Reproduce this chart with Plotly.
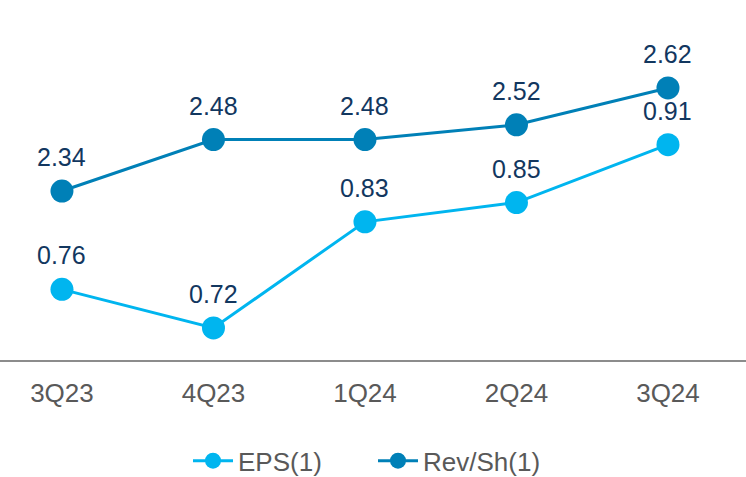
import plotly.graph_objects as go

quarters = ['3Q23', '4Q23', '1Q24', '2Q24', '3Q24']
eps = [0.76, 0.72, 0.83, 0.85, 0.91]
rev_sh = [2.34, 2.48, 2.48, 2.52, 2.62]

EPS_COLOR = '#00B5EF'
REV_COLOR = '#0080B7'
LABEL_COLOR = '#12375F'
FONT = 'Liberation Sans, Arial, sans-serif'

fig = go.Figure()
fig.add_trace(
    go.Scatter(
        x=quarters,
        y=eps,
        name='EPS(1)',
        mode='lines+markers',
        line={'color': EPS_COLOR, 'width': 3},
        marker={'color': EPS_COLOR, 'size': 23},
        yaxis='y',
    )
)
fig.add_trace(
    go.Scatter(
        x=quarters,
        y=rev_sh,
        name='Rev/Sh(1)',
        mode='lines+markers',
        line={'color': REV_COLOR, 'width': 3},
        marker={'color': REV_COLOR, 'size': 23},
        yaxis='y2',
    )
)

# value labels above each marker
for q, v in zip(quarters, eps):
    fig.add_annotation(x=q, y=v, yref='y', text=f'{v:.2f}', showarrow=False,
                       yshift=34, font={'size': 25, 'color': LABEL_COLOR, 'family': FONT})
for q, v in zip(quarters, rev_sh):
    fig.add_annotation(x=q, y=v, yref='y2', text=f'{v:.2f}', showarrow=False,
                       yshift=34, font={'size': 25, 'color': LABEL_COLOR, 'family': FONT})

fig.update_layout(
    width=746,
    height=477,
    margin={'l': 0, 'r': 0, 't': 0, 'b': 117},
    plot_bgcolor='white',
    paper_bgcolor='white',
    font={'family': FONT, 'color': '#595959'},
    showlegend=True,
    legend={
        'orientation': 'h',
        'x': 0.5,
        'xanchor': 'center',
        'yref': 'container',
        'y': 0.034,
        'yanchor': 'middle',
        'itemwidth': 40,
        'entrywidth': 130,
        'entrywidthmode': 'pixels',
        'font': {'size': 26, 'color': '#595959'},
    },
    xaxis={
        'type': 'category',
        'range': [-0.409, 4.515],
        'showgrid': False,
        'showline': True,
        'linecolor': '#8C8C8C',
        'linewidth': 2,
        'ticks': '',
        'ticklabelstandoff': 9,
        'tickfont': {'size': 26, 'color': '#595959'},
        'zeroline': False,
        'automargin': False,
    },
    yaxis={
        'range': [0.6868, 1.0599],
        'visible': False,
        'showgrid': False,
        'zeroline': False,
    },
    yaxis2={
        'range': [1.881, 2.859],
        'overlaying': 'y',
        'visible': False,
        'showgrid': False,
        'zeroline': False,
    },
)

# drop the default page margin so the figure sits at the window's corner
fig.write_html(
    'out.html',
    config={'displayModeBar': False},
    post_script="document.body.style.margin = '0';",
)
